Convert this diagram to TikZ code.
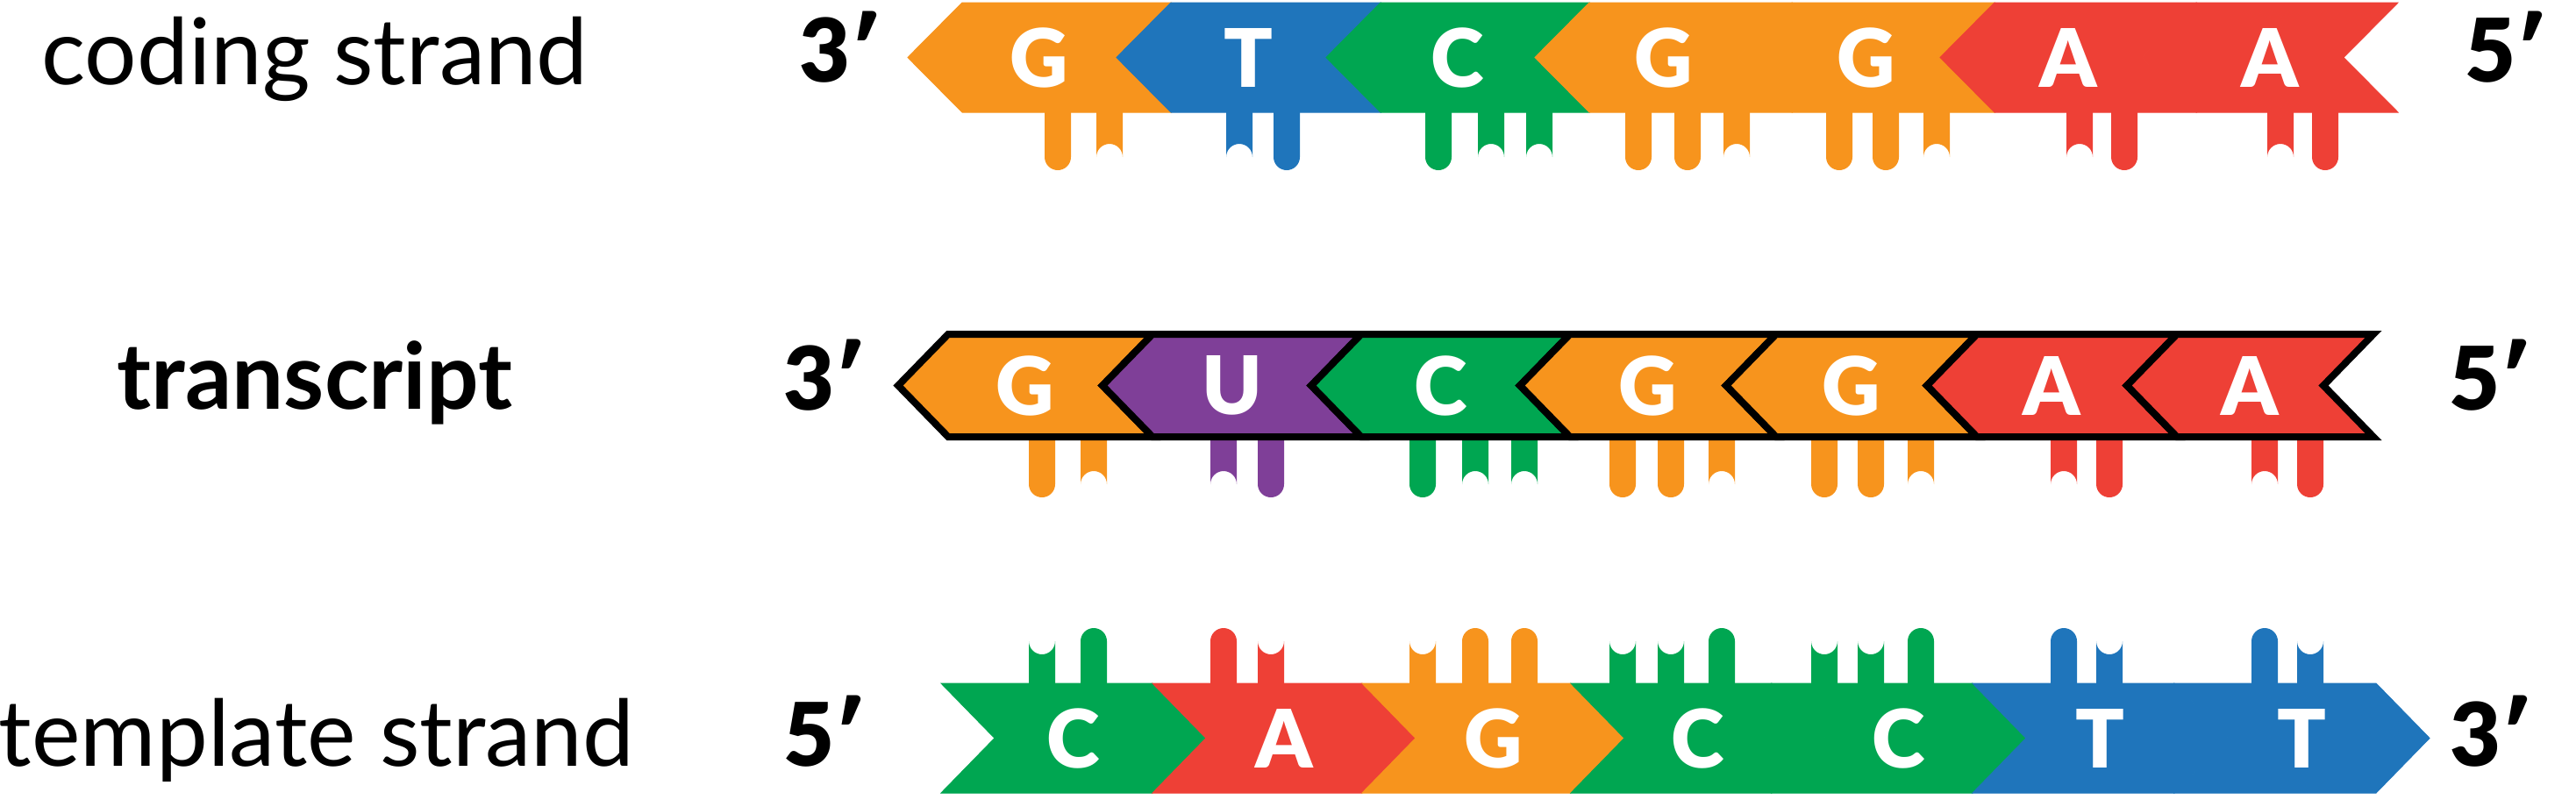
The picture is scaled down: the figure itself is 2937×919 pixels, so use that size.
\documentclass[tikz,border=0pt]{standalone}
\usepackage{fontspec}
\setmainfont{Lato}
\newfontfamily\heavyfont{Lato Black}
\usepackage{tikz}
\usetikzlibrary{positioning}

\definecolor{ntG}{RGB}{247,148,29}
\definecolor{ntT}{RGB}{31,117,187}
\definecolor{ntC}{RGB}{0,166,81}
\definecolor{ntA}{RGB}{238,64,54}
\definecolor{ntU}{RGB}{127,63,152}

% one stem of a base: x, root, end of straight part, colour, end angle
\newcommand{\basestem}[5]{%
  \fill[#4] (#1-15,#2) -- (#1-15,#3) arc[start angle=180, end angle=#5, radius=15] -- (#1+15,#2) -- cycle;}

\begin{document}
\begin{tikzpicture}[x=1pt, y=-1pt,
    rowlabel/.style={anchor=base, inner sep=0pt, font=\fontsize{105}{110}\selectfont},
    endlabel/.style={anchor=base, inner sep=0pt, font=\fontsize{100}{100}\heavyfont},
    ntletter/.style={inner sep=0pt, text=white, font=\fontsize{92}{95}\heavyfont}]
  \useasboundingbox (0,0) rectangle (2937,919);

  % coding strand
  \foreach \x/\c/\k in {1206/ntG/0, 1265/ntG/360, 1413/ntT/360, 1467/ntT/0,
      1640/ntC/0, 1700/ntC/360, 1755/ntC/360, 1868/ntG/0, 1924/ntG/0, 1980/ntG/360,
      2097/ntG/0, 2150/ntG/0, 2208/ntG/360, 2371/ntA/360, 2422/ntA/0, 2600/ntA/360, 2651/ntA/0}
    \basestem{\x}{126}{179}{\c}{\k};
  \foreach \l/\r/\c/\t [count=\i] in {1035/1273/ntG/G, 1273/1512/ntT/T, 1512/1750/ntC/C,
      1750/1981/ntG/G, 1981/2212/ntG/G, 2212/2442/ntA/A, 2442/2672/ntA/A}{
    \filldraw[fill=\c, draw=\c, line width=1] (\l,65.5) -- (\l+62,3) -- (\r+62,3) -- (\r,65.5)
      -- (\r+62,128) -- (\l+62,128) -- cycle;
    \node[ntletter] (cod\i) at ({(\l+\r+62)/2},65.5) {\t};
  }
  \node[rowlabel] (coding) at (359,96) {coding strand};
  \node[endlabel] (cod3) at (958,93) {3′};
  \node[endlabel] (cod5) at (2857,93) {5′};

  % transcript
  \foreach \x/\c/\k in {1188/ntG/0, 1247/ntG/360, 1395/ntU/360, 1449/ntU/0,
      1622/ntC/0, 1682/ntC/360, 1738/ntC/360, 1850/ntG/0, 1905/ntG/0, 1963/ntG/360,
      2080/ntG/0, 2133/ntG/0, 2190/ntG/360, 2353/ntA/360, 2405/ntA/0, 2582/ntA/360, 2634/ntA/0}
    \basestem{\x}{500}{552}{\c}{\k};
  \foreach \l/\r/\c/\t [count=\i] in {1024/1257/ntG/G, 1257/1495/ntU/U, 1495/1733/ntC/C,
      1733/1968/ntG/G, 1968/2197/ntG/G, 2197/2425/ntA/A, 2425/2649/ntA/A}{
    \filldraw[fill=\c, draw=black, line width=8, line join=miter] (\l,439.5) -- (\l+57,381)
      -- (\r+57,381) -- (\r,439.5) -- (\r+57,498) -- (\l+57,498) -- cycle;
    \node[ntletter] (rna\i) at ({(\l+\r+57)/2},439.5) {\t};
  }
  \node[rowlabel, font=\fontsize{105}{110}\selectfont\bfseries] (transcript) at (359,466) {transcript};
  \node[endlabel] (rna3) at (940,467) {3′};
  \node[endlabel] (rna5) at (2839,467) {5′};

  % template strand
  \foreach \x/\c/\k in {1188/ntC/0, 1247/ntC/360, 1395/ntA/360, 1449/ntA/0,
      1622/ntG/0, 1682/ntG/360, 1738/ntG/360, 1850/ntC/0, 1905/ntC/0, 1963/ntC/360,
      2080/ntC/0, 2133/ntC/0, 2190/ntC/360, 2353/ntT/360, 2405/ntT/0, 2582/ntT/360, 2634/ntT/0}
    \basestem{\x}{781}{731}{\c}{\k};
  \foreach \l/\r/\c/\t [count=\i] in {1073/1314/ntC/C, 1314/1553/ntA/A, 1553/1791/ntG/G,
      1791/2020/ntC/C, 2020/2249/ntC/C, 2249/2479/ntT/T, 2479/2709/ntT/T}{
    \filldraw[fill=\c, draw=\c, line width=1] (\l,779) -- (\r,779) -- (\r+61,841.5)
      -- (\r,904) -- (\l,904) -- (\l+61,841.5) -- cycle;
    \node[ntletter] (tpl\i) at ({(\l+\r+61)/2},841.5) {\t};
  }
  \node[rowlabel] (template) at (361,873) {template strand};
  \node[endlabel] (tpl5) at (940,873) {5′};
  \node[endlabel] (tpl3) at (2840,873) {3′};
\end{tikzpicture}
\end{document}
